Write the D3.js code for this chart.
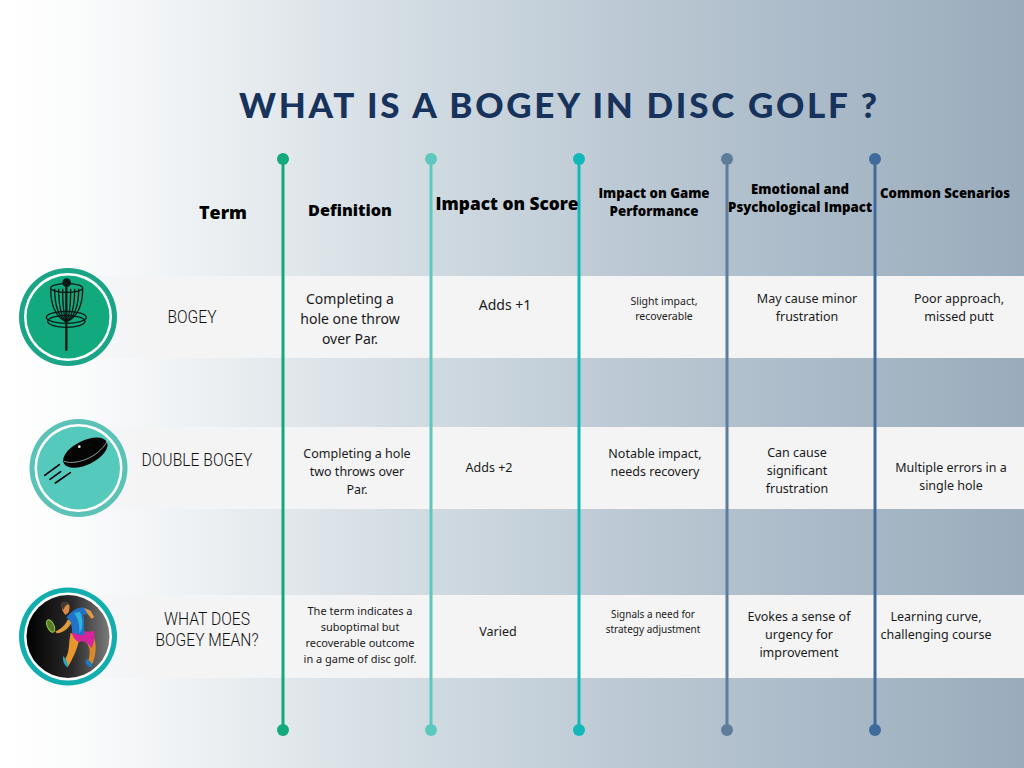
<!DOCTYPE html>
<html>
<head>
<meta charset="utf-8">
<script src="https://cdn.jsdelivr.net/npm/d3@7"></script>
<style>
  html, body { margin: 0; padding: 0; background: #fff; }
  svg { display: block; }
</style>
</head>
<body>
<div id="chart"></div>
<script>
const titleText = 'WHAT IS A BOGEY IN DISC GOLF ?';

const columns = ['Definition', 'Impact on Score', 'Impact on Game Performance', 'Emotional and Psychological Impact', 'Common Scenarios'];
const terms = ['BOGEY', 'DOUBLE BOGEY', 'WHAT DOES BOGEY MEAN?'];

const headerLines = [
  ['Term'],
  ['Definition'],
  ['Impact on Score'],
  ['Impact on Game', 'Performance'],
  ['Emotional and', 'Psychological Impact'],
  ['Common Scenarios']
];
const termLines = [['BOGEY'], ['DOUBLE BOGEY'], ['WHAT DOES', 'BOGEY MEAN?']];

const definitionCells = [
  ['Completing a', 'hole one throw', 'over Par.'],
  ['Completing a hole', 'two throws over', 'Par.'],
  ['The term indicates a', 'suboptimal but', 'recoverable outcome', 'in a game of disc golf.']
];
const scoreCells = [['Adds +1'], ['Adds +2'], ['Varied']];
const gameCells = [
  ['Slight impact,', 'recoverable'],
  ['Notable impact,', 'needs recovery'],
  ['Signals a need for', 'strategy adjustment']
];
const emotionCells = [
  ['May cause minor', 'frustration'],
  ['Can cause', 'significant', 'frustration'],
  ['Evokes a sense of', 'urgency for', 'improvement']
];
const scenarioCells = [
  ['Poor approach,', 'missed putt'],
  ['Multiple errors in a', 'single hole'],
  ['Learning curve,', 'challenging course']
];
const cellColumns = [definitionCells, scoreCells, gameCells, emotionCells, scenarioCells];

// layout, kept apart from the content above
const width = 1024;
const height = 768;
const lineColours = ['#12a97f', '#5cc9bc', '#12b8b8', '#5f7d9b', '#3f6a9c'];
const rowBands = [[276, 358], [427, 509], [595, 678]];
const headerPos = [
  { cx: 223, y: 213, size: 18, spacing: 18, widths: [48] },
  { cx: 350, y: 210, size: 16, spacing: 18, widths: [84] },
  { cx: 507, y: 204, size: 17, spacing: 18, widths: [143] },
  { cx: 654, y: 193, size: 14, spacing: 18, widths: [111, 89] },
  { cx: 800, y: 189, size: 14, spacing: 18, widths: [98, 144] },
  { cx: 945, y: 193, size: 14, spacing: 18, widths: [130] }
];
const termPos = [
  { cx: 192, y: 317, spacing: 21, widths: [49] },
  { cx: 197, y: 460, spacing: 21, widths: [111] },
  { cx: 207, y: 619, spacing: 21, widths: [86, 103] }
];
const cellPos = [
  [{ cx: 350, y: 299, size: 14, spacing: 20 }, { cx: 357, y: 454, size: 12.5, spacing: 18 }, { cx: 360, y: 611, size: 11, spacing: 16 }],
  [{ cx: 505, y: 305.5, size: 14, spacing: 18 }, { cx: 489, y: 468, size: 12.5, spacing: 18 }, { cx: 498, y: 632, size: 12.5, spacing: 18 }],
  [{ cx: 664, y: 301.5, size: 10.5, spacing: 14.5 }, { cx: 655, y: 454, size: 12.5, spacing: 18 }, { cx: 653, y: 614.5, size: 10, spacing: 15 }],
  [{ cx: 807, y: 299, size: 12.5, spacing: 18 }, { cx: 797, y: 453, size: 12.5, spacing: 18 }, { cx: 799, y: 617, size: 12.5, spacing: 18 }],
  [{ cx: 959, y: 299, size: 12.5, spacing: 18 }, { cx: 951, y: 468, size: 12.5, spacing: 18 }, { cx: 936, y: 617, size: 12.5, spacing: 18 }]
];

const x = d3.scalePoint().domain(columns).range([283, 875]);
const svg = d3.select('#chart').append('svg').attr('width', width).attr('height', height);
const defs = svg.append('defs');

function gradient(id, stops) {
  defs.append('linearGradient')
    .attr('id', id)
    .selectAll('stop')
    .data(stops)
    .enter()
    .append('stop')
    .attr('offset', d => d[0])
    .attr('stop-color', d => d[1])
    .attr('stop-opacity', d => (d[2] === undefined ? 1 : d[2]));
}

gradient('bg', [[0, '#ffffff'], [0.07, '#fbfcfc'], [0.17, '#f0f3f5'], [0.42, '#d0dae1'], [0.6, '#bdcad5'], [0.8, '#aabac8'], [1, '#9aacbc']]);
gradient('band', [[0, '#f4f4f5', 0], [0.12, '#f4f4f5', 1], [1, '#f4f4f5', 1]]);
gradient('dark', [[0, '#000000'], [0.55, '#2a2a2a'], [1, '#7a7a7a']]);

svg.append('rect').attr('width', width).attr('height', height).attr('fill', 'url(#bg)');

svg.append('g')
  .selectAll('rect')
  .data(rowBands)
  .enter()
  .append('rect')
  .attr('x', 40)
  .attr('y', d => d[0])
  .attr('width', width - 40)
  .attr('height', d => d[1] - d[0])
  .attr('fill', 'url(#band)');

svg.append('text')
  .attr('x', 239)
  .attr('y', 118)
  .attr('textLength', 638)
  .attr('lengthAdjust', 'spacing')
  .style('font-family', 'Lato')
  .style('font-weight', 900)
  .style('font-size', '35px')
  .style('fill', '#17335c')
  .text(titleText);

// column rules with their end dots
const rules = svg.append('g')
  .selectAll('g')
  .data(columns)
  .enter()
  .append('g')
  .style('color', (d, i) => lineColours[i]);

rules.append('line')
  .attr('x1', d => x(d))
  .attr('x2', d => x(d))
  .attr('y1', 159)
  .attr('y2', 730)
  .attr('stroke', 'currentColor')
  .attr('stroke-width', 3);

[159, 730].forEach(y => {
  rules.append('circle')
    .attr('cx', d => x(d))
    .attr('cy', y)
    .attr('r', 6)
    .attr('fill', 'currentColor');
});

function drawLines(parent, lines, pos, style) {
  parent.append('g')
    .selectAll('text')
    .data(lines)
    .enter()
    .append('text')
    .attr('x', pos.cx)
    .attr('y', (d, i) => pos.y + i * pos.spacing)
    .attr('dy', '0.35em')
    .attr('text-anchor', 'middle')
    .attr('textLength', (d, i) => (pos.widths ? pos.widths[i] : null))
    .attr('lengthAdjust', 'spacingAndGlyphs')
    .style('font-family', style.family)
    .style('font-weight', style.weight)
    .style('font-size', `${pos.size || style.size}px`)
    .style('fill', style.fill)
    .text(d => d);
}

headerLines.forEach((lines, i) => {
  drawLines(svg, lines, headerPos[i], { family: 'Open Sans', weight: 800, fill: '#000' });
});

termLines.forEach((lines, i) => {
  drawLines(svg, lines, termPos[i], { family: 'Roboto', weight: 300, size: 18, fill: '#111' });
});

cellColumns.forEach((cells, c) => {
  cells.forEach((lines, r) => {
    drawLines(svg, lines, cellPos[c][r], { family: 'Noto Sans', weight: 400, fill: '#1a1a1a' });
  });
});

// round icons on the left
function badge(cx, cy, ring, fill) {
  const g = svg.append('g').attr('transform', `translate(${cx},${cy})`);
  g.append('circle').attr('r', 49).attr('fill', ring);
  g.append('circle').attr('r', 44).attr('fill', '#fff');
  g.append('circle').attr('r', 41.5).attr('fill', fill);
}

badge(68, 317, '#1aa586', '#12a97f');
badge(78.5, 468, '#5cc2b8', '#55c9bc');
badge(68, 636.5, '#12adad', 'url(#dark)');

// basket, drawn in 3x crop coordinates
const basket = svg.append('g')
  .attr('transform', 'translate(0,260) scale(0.3333)')
  .attr('fill', 'none')
  .attr('stroke', '#0a1a16')
  .attr('stroke-width', 4);
basket.append('line').attr('x1', 199).attr('x2', 199).attr('y1', 68).attr('y2', 272).attr('stroke-width', 7);
basket.append('circle').attr('cx', 200).attr('cy', 68).attr('r', 11).attr('fill', '#0a1a16');
basket.append('ellipse').attr('cx', 200).attr('cy', 84).attr('rx', 48).attr('ry', 13);
basket.append('ellipse').attr('cx', 199).attr('cy', 172).attr('rx', 60).attr('ry', 18);
basket.append('ellipse').attr('cx', 199).attr('cy', 184).attr('rx', 56).attr('ry', 18);
basket.selectAll('path')
  .data([-48, -36, -24, -12, 12, 24, 36, 48])
  .enter()
  .append('path')
  .attr('d', d => `M${200 + d},86 C${200 + d},140 ${200 + d * 0.6},172 199,186`);

// disc with speed marks
const disc = svg.append('g').attr('transform', 'translate(10,410) scale(0.3333)');
disc.append('ellipse')
  .attr('cx', 226).attr('cy', 128).attr('rx', 72).attr('ry', 36)
  .attr('transform', 'rotate(-26 226 128)')
  .attr('fill', '#050505');
disc.append('path')
  .attr('d', 'M162,154 C205,168 275,135 294,88')
  .attr('fill', 'none')
  .attr('stroke', '#c5ece6')
  .attr('stroke-width', 2);
disc.append('circle').attr('cx', 208).attr('cy', 110).attr('r', 4).attr('fill', '#e8f5f3');
disc.selectAll('line.speed')
  .data([[104, 196, 148, 164], [120, 208, 152, 185], [136, 219, 181, 188]])
  .enter()
  .append('line')
  .attr('class', 'speed')
  .attr('x1', d => d[0]).attr('y1', d => d[1]).attr('x2', d => d[2]).attr('y2', d => d[3])
  .attr('stroke', '#050505')
  .attr('stroke-width', 5)
  .attr('stroke-linecap', 'round');

// player throwing a disc
const player = svg.append('g').attr('transform', 'translate(0,580) scale(0.3333)');
const playerShapes = [
  ['M212,158 C205,190 210,215 196,236 L203,262 C216,240 232,210 238,176 Z', '#e8962e'],
  ['M250,180 C272,195 274,220 262,250 L275,256 C290,225 290,195 282,172 Z', '#d9892a'],
  ['M190,228 C198,238 206,252 204,262 C194,258 186,242 190,228 Z', '#20a9c4'],
  ['M258,238 C270,240 278,250 276,262 C264,262 254,252 258,238 Z', '#1d7cc6'],
  ['M216,158 C240,150 262,158 282,152 C286,170 282,192 274,204 C262,186 248,180 238,186 C228,182 218,172 216,158 Z', '#d6259a'],
  ['M200,112 C215,92 238,78 254,84 L268,90 L270,102 L250,104 C254,125 252,150 254,164 C240,168 226,158 216,158 C218,140 212,125 200,112 Z', '#2272c8'],
  ['M222,100 C235,115 240,140 238,160 C250,150 250,120 240,95 Z', '#2eb4d8'],
  ['M252,84 L272,92 L283,112 L274,116 L262,100 Z', '#e09a40'],
  ['M204,118 C196,135 184,148 166,154 L170,160 C190,158 206,146 214,128 Z', '#e09a40'],
  ['M185,70 C192,62 205,66 208,76 C210,92 206,102 196,104 C188,98 184,84 185,70 Z', '#d98a45'],
  ['M185,70 C190,62 205,64 208,74 C200,72 194,78 190,90 C186,84 184,76 185,70 Z', '#3f3a34']
];
player.selectAll('path')
  .data(playerShapes)
  .enter()
  .append('path')
  .attr('d', d => d[0])
  .attr('fill', d => d[1]);
player.append('ellipse')
  .attr('cx', 152).attr('cy', 138).attr('rx', 10).attr('ry', 20)
  .attr('transform', 'rotate(-25 152 138)')
  .attr('fill', '#5a7a2a')
  .attr('stroke', '#8fd14f')
  .attr('stroke-width', 3);
</script>
</body>
</html>
